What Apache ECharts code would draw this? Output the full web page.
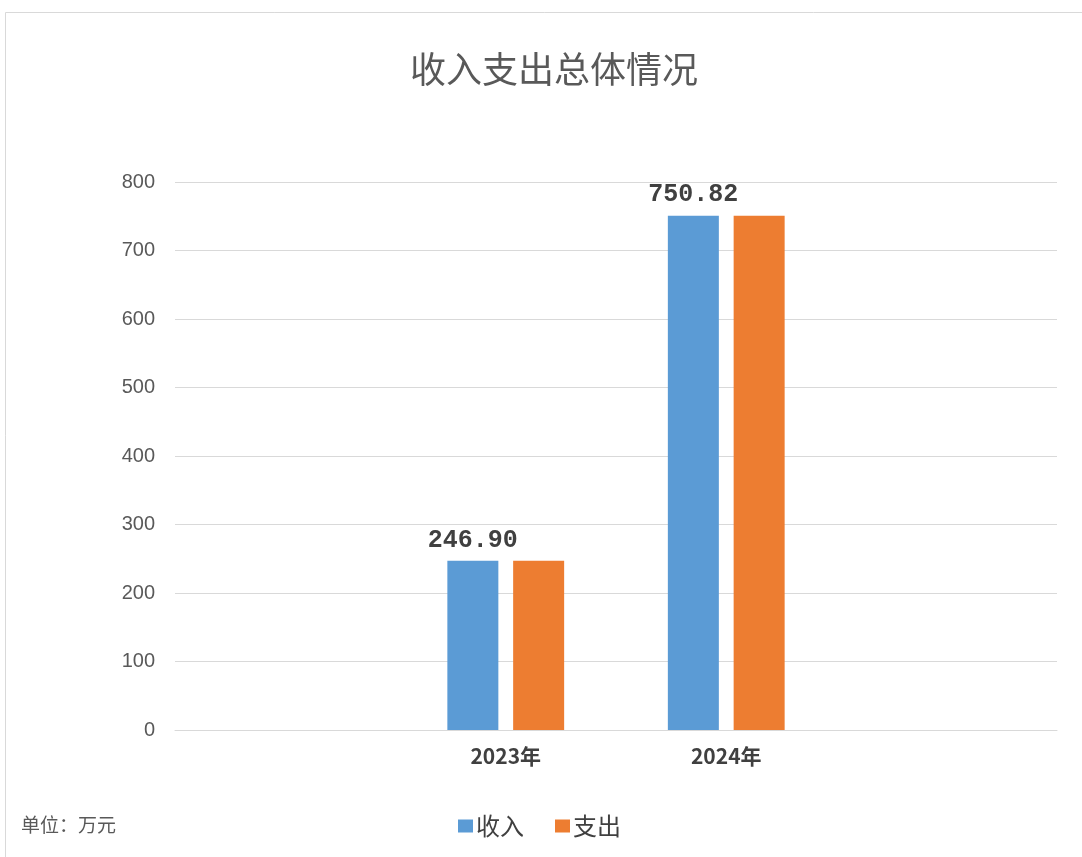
<!DOCTYPE html>
<html><head><meta charset="utf-8">
<script src="https://cdn.jsdelivr.net/npm/echarts@6/dist/echarts.min.js"></script>
<style>html,body{margin:0;padding:0;background:#fff}#c{width:1082px;height:857px}</style>
</head><body><div id="c"></div>
<script>
const title = '收入支出总体情况';
const categories = ['', '2023年', '2024年', ''];
const seriesNames = ['收入', '支出'];
const incomeValues = [null, 246.90, 750.82, null];
const expenseValues = [null, 246.90, 750.82, null];
const yTicks = [0, 100, 200, 300, 400, 500, 600, 700, 800];
const unitNote = '单位：万元';

const chart = echarts.init(document.getElementById('c'), null, {renderer: 'canvas'});
chart.setOption({
  animation: false,
  backgroundColor: '#fff',
  title: {
    text: title, left: 405, top: 46,
    textStyle: {fontFamily: 'Noto Sans CJK SC', fontSize: 36, fontWeight: 'normal', color: '#595959'}
  },
  graphic: [
    {type: 'rect', shape: {x: 5.5, y: 12.5, width: 1200, height: 1000}, style: {fill: null, stroke: '#d9d9d9', lineWidth: 1}, silent: true},
    {type: 'text', left: 21, top: 815, style: {text: unitNote, fontFamily: 'Noto Sans CJK SC', fontSize: 19, fill: '#595959'}}
  ],
  legend: {
    data: seriesNames, left: 453, top: 809, itemWidth: 15, itemHeight: 13, itemGap: 31,
    icon: 'rect',
    textStyle: {fontFamily: 'Noto Sans CJK SC', fontSize: 24, color: '#404040', padding: [0, 0, 0, -2]}
  },
  grid: {left: 175, right: 25, top: 182, bottom: 127, containLabel: false},
  xAxis: {
    type: 'category', data: categories,
    axisLine: {show: true, lineStyle: {color: '#d9d9d9', width: 1}},
    axisTick: {show: false},
    axisLabel: {margin: 16, fontFamily: 'Noto Sans CJK SC', fontSize: 21, fontWeight: 'bold', color: '#404040', interval: 0}
  },
  yAxis: {
    type: 'value', min: yTicks[0], max: yTicks[yTicks.length - 1], interval: 100,
    axisLine: {show: false}, axisTick: {show: false},
    splitLine: {lineStyle: {color: '#d9d9d9', width: 1}},
    axisLabel: {margin: 20, fontFamily: 'Liberation Sans', fontSize: 20, color: '#595959'}
  },
  series: [
    {
      name: seriesNames[0], type: 'bar', data: incomeValues, barWidth: 51, barGap: '29%',
      itemStyle: {color: '#5b9bd5'},
      label: {
        show: true, position: 'top', distance: 8,
        formatter: p => p.value == null ? '' : Number(p.value).toFixed(2),
        fontFamily: 'Liberation Mono', fontSize: 25, fontWeight: 'bold', color: '#404040'
      }
    },
    {
      name: seriesNames[1], type: 'bar', data: expenseValues, barWidth: 51, barGap: '29%',
      itemStyle: {color: '#ed7d31'}
    }
  ]
});
</script></body></html>
